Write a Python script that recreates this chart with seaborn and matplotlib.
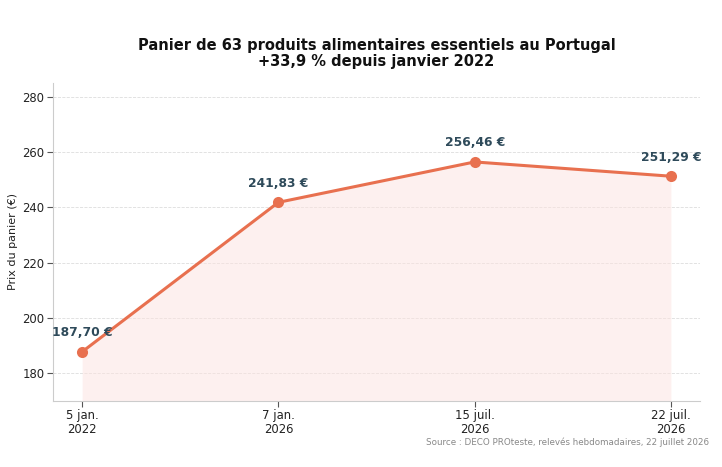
import matplotlib
matplotlib.use("Agg")
import matplotlib.pyplot as plt
import seaborn as sns
import pandas as pd
import numpy as np

dates = ["5 jan.\n2022", "7 jan.\n2026", "15 juil.\n2026", "22 juil.\n2026"]
prices = [187.70, 241.83, 256.46, 251.29]
price_labels = ["187,70 €", "241,83 €", "256,46 €", "251,29 €"]

line_color = "#e8704f"
label_color = "#2e4a5a"

sns.set_theme(style="white")
plt.rcParams['font.family'] = ['DejaVu Sans']

df = pd.DataFrame({"pos": np.arange(len(dates)), "price": prices})

fig, ax = plt.subplots(figsize=(7.22, 4.67), dpi=100)
fig.subplots_adjust(left=0.073, right=0.97, top=0.822, bottom=0.142)

ax.fill_between(df["pos"], df["price"], 170, color="#fde3e0", alpha=0.5, linewidth=0)
sns.lineplot(data=df, x="pos", y="price", ax=ax, color=line_color, linewidth=2.2,
             marker="o", markersize=8, markeredgewidth=0)

for x, y, lab in zip(df["pos"], df["price"], price_labels):
    ax.annotate(lab, (x, y), xytext=(0, 9), textcoords="offset points",
                ha="center", va="bottom", fontsize=8.8, fontweight="bold", color=label_color)

ax.set_xlim(-0.15, 3.15)
ax.set_ylim(170, 285)
ax.set_yticks([180, 200, 220, 240, 260, 280])
ax.set_xticks(df["pos"])
ax.set_xticklabels(dates, linespacing=1.1)
ax.set_xlabel("")
ax.set_ylabel("Prix du panier (€)", fontsize=8, color="#222222", labelpad=3)
ax.tick_params(axis="both", labelsize=8.4, colors="#555555", labelcolor="#222222",
               length=4, width=0.8, left=True, bottom=True, pad=2)

ax.grid(axis="y", linestyle="--", color="#dddddd", linewidth=0.6)
ax.set_axisbelow(True)
sns.despine(ax=ax)
for s in ["left", "bottom"]:
    ax.spines[s].set_color("#cccccc")
    ax.spines[s].set_linewidth(0.8)

ax.set_title("Panier de 63 produits alimentaires essentiels au Portugal\n+33,9 % depuis janvier 2022",
             fontsize=10.5, fontweight="bold", color="#111111", pad=12, linespacing=1.1)

fig.text(0.982, 0.054, "Source : DECO PROteste, relevés hebdomadaires, 22 juillet 2026",
         ha="right", va="center", fontsize=6.3, color="#888888")

plt.savefig("out.png", dpi=100)
